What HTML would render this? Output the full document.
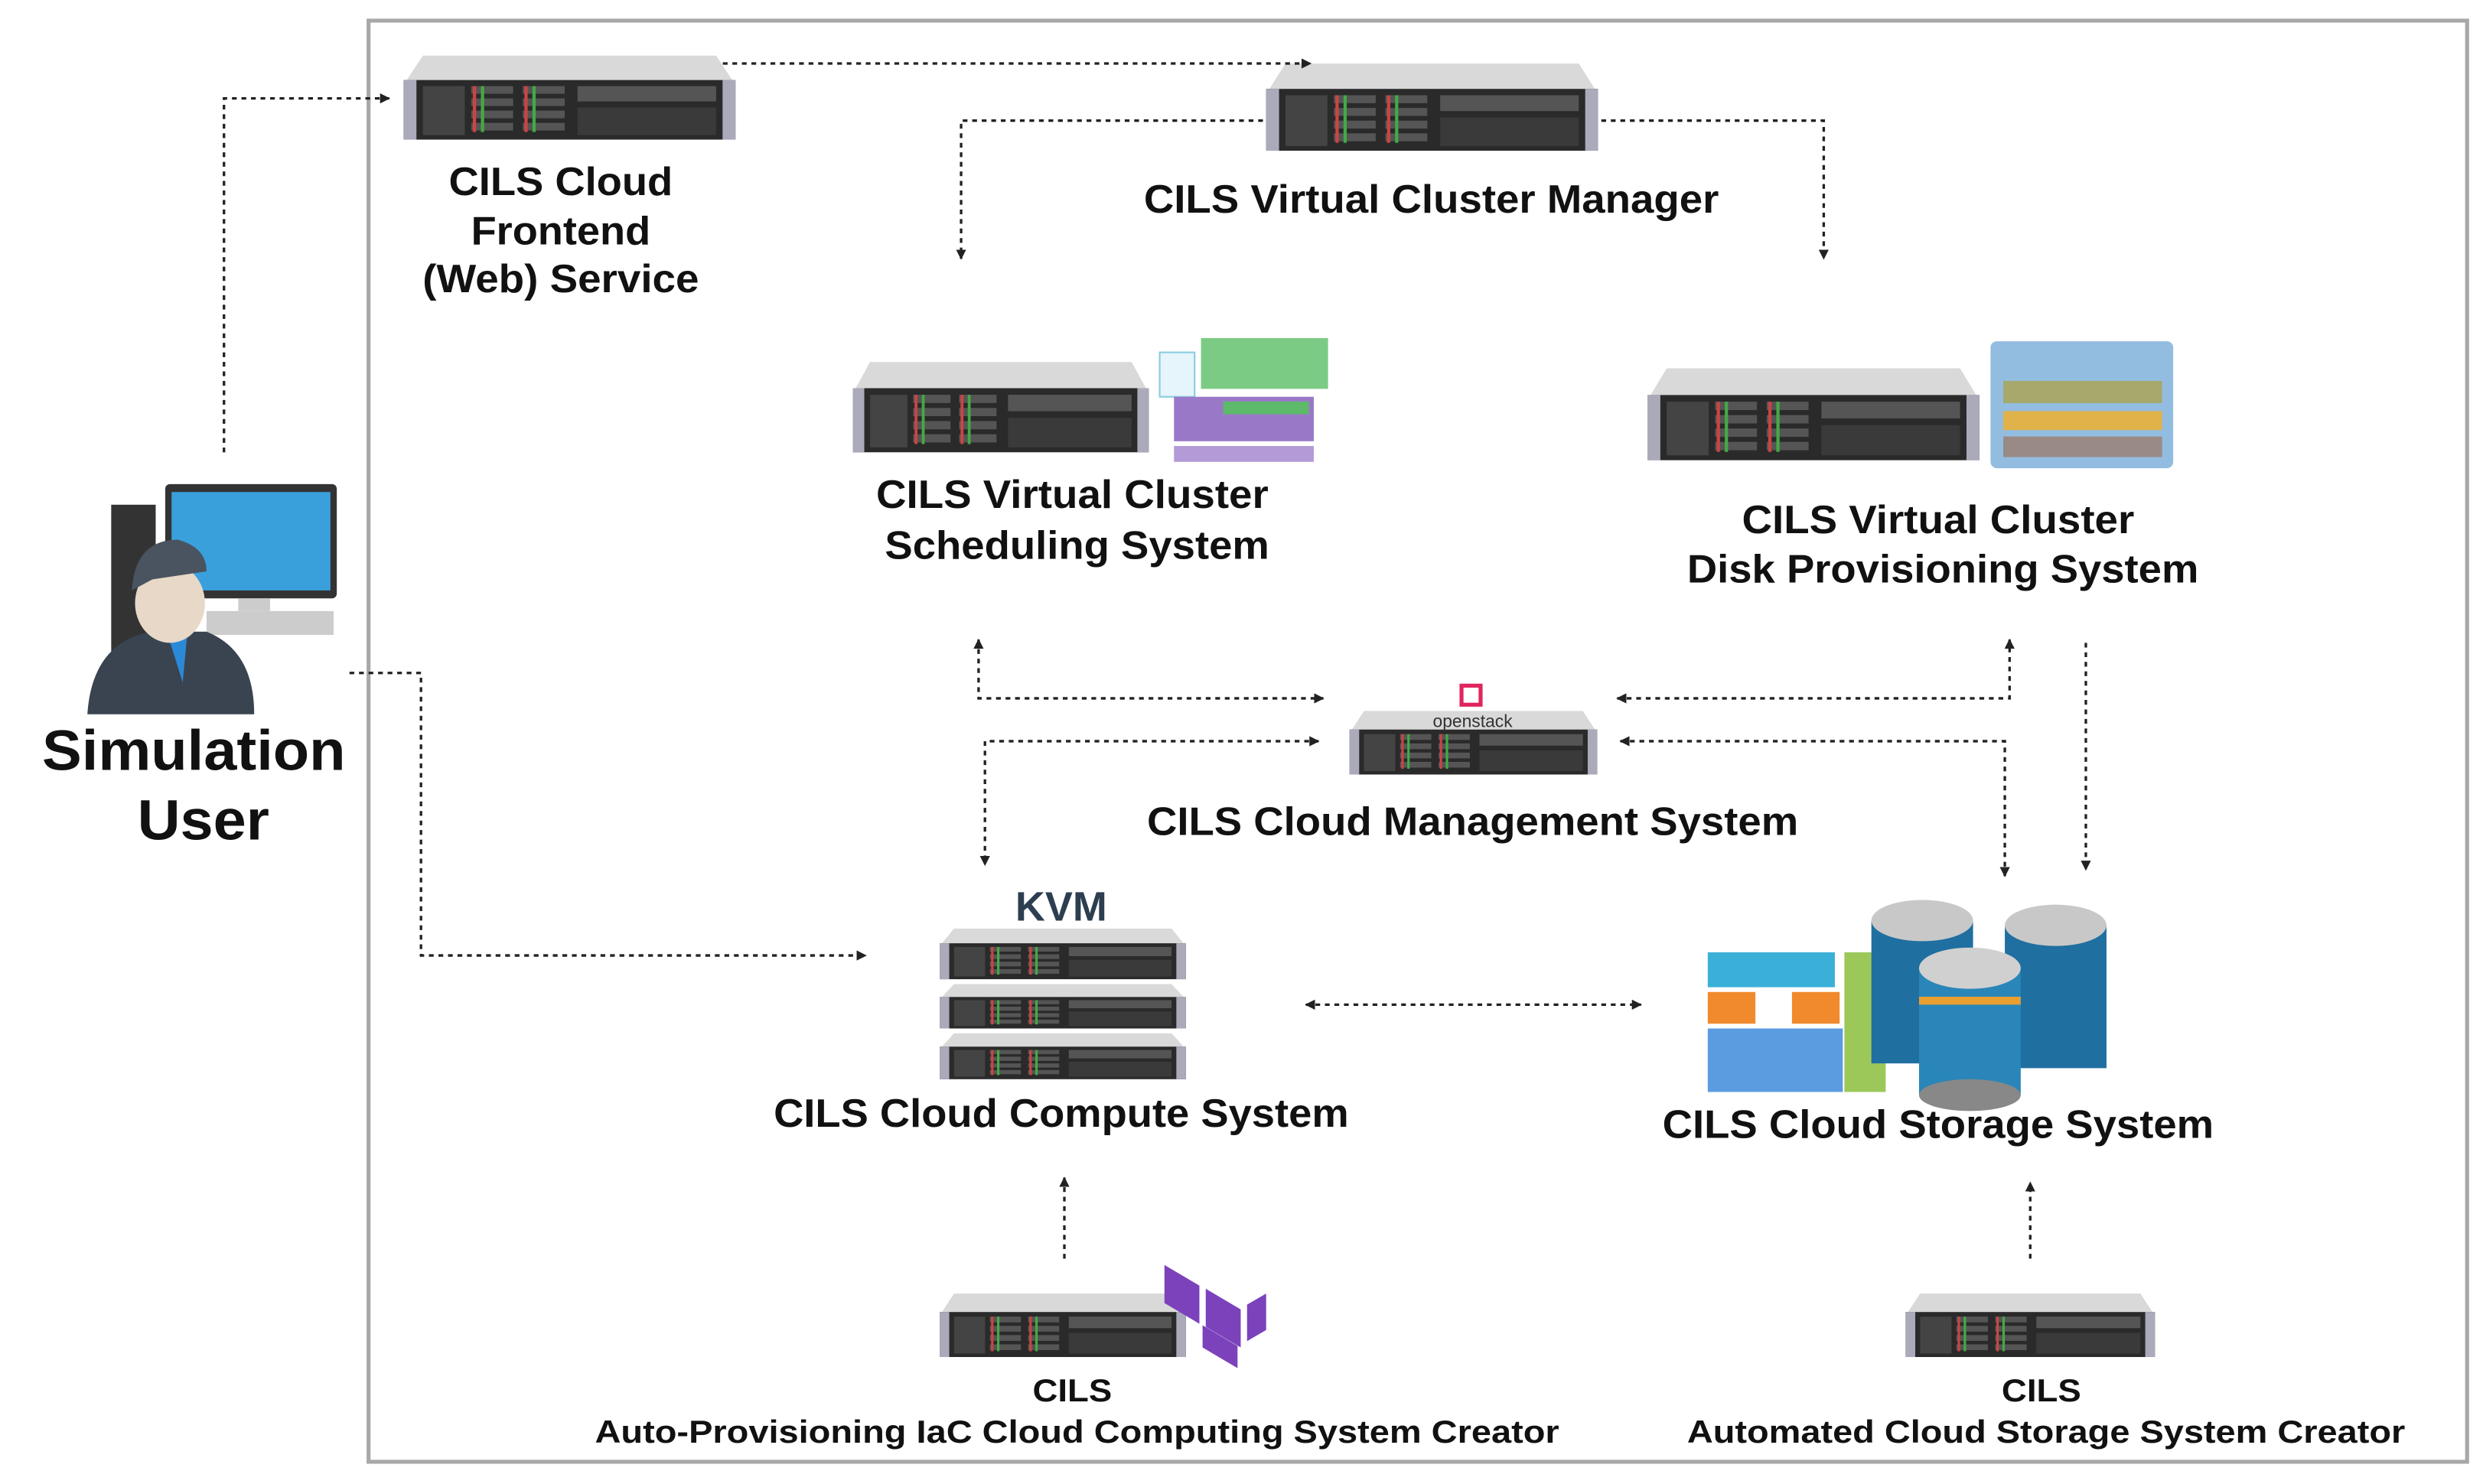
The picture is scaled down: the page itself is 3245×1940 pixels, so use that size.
<!DOCTYPE html>
<html><head><meta charset="utf-8"><style>html,body{margin:0;padding:0;background:#fff;width:3245px;height:1940px;overflow:hidden}svg{display:block}</style></head>
<body>
<svg width="3245" height="1940" viewBox="0 0 1563 935" preserveAspectRatio="none" xmlns="http://www.w3.org/2000/svg">
<defs>
<symbol id="srv" viewBox="0 0 210 55" preserveAspectRatio="none">
<path d="M14 0 H196 L206 16 H4 Z" fill="#d9d9d9"/>
<rect x="2" y="16" width="206" height="39" fill="#2a2a2a"/>
<rect x="2" y="16" width="8" height="39" fill="#aab"/>
<rect x="200" y="16" width="8" height="39" fill="#aab"/>
<rect x="14" y="20" width="26" height="32" fill="#444"/>
<g fill="#555"><rect x="44" y="20" width="26" height="5"/><rect x="44" y="28" width="26" height="5"/><rect x="44" y="36" width="26" height="5"/><rect x="44" y="44" width="26" height="5"/>
<rect x="76" y="20" width="26" height="5"/><rect x="76" y="28" width="26" height="5"/><rect x="76" y="36" width="26" height="5"/><rect x="76" y="44" width="26" height="5"/></g>
<g fill="#c44"><rect x="45" y="20" width="2" height="30"/><rect x="77" y="20" width="2" height="30"/></g>
<g fill="#4a4"><rect x="50" y="20" width="2" height="30"/><rect x="82" y="20" width="2" height="30"/></g>
<rect x="110" y="20" width="86" height="10" fill="#555"/>
<rect x="110" y="34" width="86" height="18" fill="#3a3a3a"/>
</symbol>
<marker id="ar" viewBox="0 0 10 10" refX="9" refY="5" markerWidth="4" markerHeight="4" orient="auto-start-reverse"><path d="M0 0 L10 5 L0 10 Z" fill="#222"/></marker>
</defs>

<rect x="232" y="13" width="1321" height="908" fill="none" stroke="#a8a8a8" stroke-width="2.5"/>

<!-- servers -->
<use href="#srv" x="252" y="35" width="213" height="53"/>
<use href="#srv" x="795" y="40" width="213" height="55"/>
<use href="#srv" x="535" y="228" width="190" height="57"/>
<use href="#srv" x="1035" y="232" width="213" height="58"/>
<use href="#srv" x="848" y="448" width="159" height="40"/>
<use href="#srv" x="590" y="585" width="158" height="32"/>
<use href="#srv" x="590" y="620" width="158" height="28"/>
<use href="#srv" x="590" y="651" width="158" height="29"/>
<use href="#srv" x="590" y="815" width="158" height="40"/>
<use href="#srv" x="1198" y="815" width="160" height="40"/>

<!-- scheduling diagram -->
<rect x="730" y="222" width="22" height="28" fill="#e6f4fb" stroke="#8cd"/>
<rect x="756" y="213" width="80" height="32" fill="#7ccb85"/>
<rect x="739" y="250" width="88" height="28" fill="#9a78c8"/>
<rect x="739" y="281" width="88" height="10" fill="#b49ad6"/>
<rect x="770" y="253" width="54" height="8" fill="#5cba6a"/>
<!-- disk provisioning panel -->
<rect x="1253" y="215" width="115" height="80" rx="4" fill="#93bde0"/>
<rect x="1261" y="240" width="100" height="14" fill="#a6a86c"/>
<rect x="1261" y="259" width="100" height="12" fill="#dfb24a"/>
<rect x="1261" y="275" width="100" height="13" fill="#9a8a86"/>
<!-- openstack icon -->
<rect x="920" y="432" width="12" height="12" fill="none" stroke="#e0245e" stroke-width="2.5"/>
<text x="927" y="458" font-family="Liberation Sans, sans-serif" font-size="11" fill="#333" text-anchor="middle">openstack</text>
<!-- KVM -->
<text x="668" y="580" font-family="Liberation Sans, sans-serif" font-size="26" font-weight="bold" fill="#2c3e50" text-anchor="middle">KVM</text>
<!-- terraform -->
<g fill="#7b42bc"><path d="M733 797 L755 810 L755 834 L733 821 Z"/><path d="M759 812 L781 825 L781 849 L759 836 Z"/><path d="M759 839 L781 852 L781 866 L759 853 Z" transform="translate(-2,-4)"/><path d="M785 822 L797 815 L797 838 L785 845 Z"/></g>
<!-- storage -->
<rect x="1075" y="600" width="80" height="22" fill="#3ab0d8"/>
<rect x="1075" y="625" width="30" height="20" fill="#f08a2c"/><rect x="1128" y="625" width="30" height="20" fill="#f08a2c"/>
<rect x="1075" y="648" width="85" height="40" fill="#5b9be0"/>
<rect x="1161" y="600" width="26" height="88" fill="#9cc85a"/>
<g>
<rect x="1178" y="580" width="64" height="90" fill="#1f6fa0"/><ellipse cx="1210" cy="580" rx="32" ry="13" fill="#c8c8c8"/>
<rect x="1262" y="583" width="64" height="90" fill="#1f6fa0"/><ellipse cx="1294" cy="583" rx="32" ry="13" fill="#c8c8c8"/>
<rect x="1208" y="610" width="64" height="80" fill="#2a86b8"/><ellipse cx="1240" cy="690" rx="32" ry="10" fill="#888"/><ellipse cx="1240" cy="610" rx="32" ry="13" fill="#d0d0d0"/>
<rect x="1208" y="628" width="64" height="5" fill="#e8a030"/>
</g>

<!-- user icon -->
<rect x="104" y="305" width="108" height="72" rx="3" fill="#333"/>
<rect x="108" y="310" width="100" height="62" fill="#3aa0dc"/>
<rect x="150" y="377" width="20" height="8" fill="#ccc"/>
<rect x="130" y="385" width="80" height="15" fill="#ccc"/>
<rect x="70" y="318" width="28" height="100" fill="#333"/>
<path d="M55 450 Q58 405 95 398 L130 398 Q160 410 160 450 Z" fill="#3a4450"/>
<path d="M105 398 L118 398 L115 430 Z" fill="#2a8ad8"/>
<ellipse cx="107" cy="380" rx="22" ry="25" fill="#e8d8c8"/>
<path d="M83 372 Q85 340 112 340 Q130 345 130 360 L96 365 Z" fill="#4a5460"/>

<!-- connectors -->
<g fill="none" stroke="#222" stroke-width="1.6" stroke-dasharray="3 3">
<path d="M141 285 V62 H245" marker-end="url(#ar)"/>
<path d="M455 40 H825" marker-end="url(#ar)"/>
<path d="M795 76 H605 V163" marker-end="url(#ar)"/>
<path d="M1008 76 H1148 V163" marker-end="url(#ar)"/>
<path d="M220 424 H265 V602 H545" marker-end="url(#ar)"/>
<path d="M616 403 V440 H833" marker-start="url(#ar)" marker-end="url(#ar)"/>
<path d="M830 467 H620 V545" marker-start="url(#ar)" marker-end="url(#ar)"/>
<path d="M1018 440 H1265 V403" marker-start="url(#ar)" marker-end="url(#ar)"/>
<path d="M1020 467 H1262 V552" marker-start="url(#ar)" marker-end="url(#ar)"/>
<path d="M1313 405 V548" marker-end="url(#ar)"/>
<path d="M822 633 H1033" marker-start="url(#ar)" marker-end="url(#ar)"/>
<path d="M670 793 V742" marker-end="url(#ar)"/>
<path d="M1278 793 V745" marker-end="url(#ar)"/>
</g>

<!-- labels -->
<g font-family="Liberation Sans, Arial, sans-serif" font-weight="bold" fill="#111" font-size="25" text-anchor="middle" lengthAdjust="spacingAndGlyphs">
<text x="353" y="123" textLength="141" lengthAdjust="spacingAndGlyphs">CILS Cloud</text>
<text x="353" y="154" textLength="113" lengthAdjust="spacingAndGlyphs">Frontend</text>
<text x="353" y="184" textLength="174" lengthAdjust="spacingAndGlyphs">(Web) Service</text>
<text x="901" y="134" textLength="362" lengthAdjust="spacingAndGlyphs">CILS Virtual Cluster Manager</text>
<text x="675" y="320" textLength="247" lengthAdjust="spacingAndGlyphs">CILS Virtual Cluster</text>
<text x="678" y="352" textLength="242" lengthAdjust="spacingAndGlyphs">Scheduling System</text>
<text x="1220" y="336" textLength="247" lengthAdjust="spacingAndGlyphs">CILS Virtual Cluster</text>
<text x="1223" y="367" textLength="322" lengthAdjust="spacingAndGlyphs">Disk Provisioning System</text>
<text x="927" y="526" textLength="410" lengthAdjust="spacingAndGlyphs">CILS Cloud Management System</text>
<text x="668" y="710" textLength="362" lengthAdjust="spacingAndGlyphs">CILS Cloud Compute System</text>
<text x="1220" y="717" textLength="347" lengthAdjust="spacingAndGlyphs">CILS Cloud Storage System</text>
<text x="675" y="883" font-size="20" textLength="50" lengthAdjust="spacingAndGlyphs">CILS</text>
<text x="678" y="909" font-size="20" textLength="607" lengthAdjust="spacingAndGlyphs">Auto-Provisioning IaC Cloud Computing System Creator</text>
<text x="1285" y="883" font-size="20" textLength="50" lengthAdjust="spacingAndGlyphs">CILS</text>
<text x="1288" y="909" font-size="20" textLength="452" lengthAdjust="spacingAndGlyphs">Automated Cloud Storage System Creator</text>
<text x="122" y="485" font-size="36" textLength="191" lengthAdjust="spacingAndGlyphs">Simulation</text>
<text x="128" y="529" font-size="36" textLength="83" lengthAdjust="spacingAndGlyphs">User</text>
</g>
</svg>
</body></html>
